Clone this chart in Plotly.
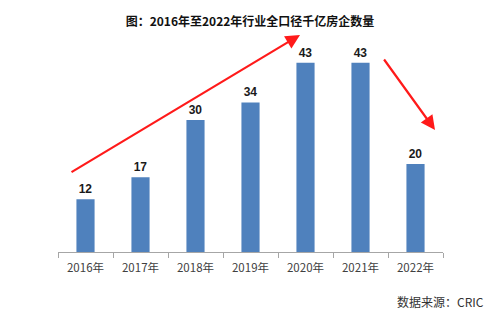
import plotly.graph_objects as go

# Number of developers with full-caliber sales above 100 billion, by year
years = ["2016年", "2017年", "2018年", "2019年", "2020年", "2021年", "2022年"]
counts = [12, 17, 30, 34, 43, 43, 20]

title_text = "图：2016年至2022年行业全口径千亿房企数量"
source_text = "数据来源：CRIC"

W, H = 500, 322
L, R, T, B = 58, 57, 32, 70
plot_w = W - L - R
plot_h = H - T - B


def px_to_paper(px, py):
    return (px - L) / plot_w, (H - B - py) / plot_h


fig = go.Figure(
    go.Bar(
        x=years,
        y=counts,
        marker=dict(color="#4f81bd", line=dict(width=0)),
        text=[str(v) for v in counts],
        textposition="outside",
        textfont=dict(family="Liberation Sans", size=12, color="#1a1a1a", weight="bold"),
        cliponaxis=False,
    )
)

fig.update_layout(
    width=W,
    height=H,
    margin=dict(l=L, r=R, t=T, b=B),
    paper_bgcolor="white",
    plot_bgcolor="white",
    bargap=0.67,
    showlegend=False,
    title=dict(
        text=title_text,
        x=0.5,
        xanchor="center",
        y=1 - 22 / H,
        yanchor="middle",
        font=dict(family="Noto Sans CJK SC", size=12, color="#111111", weight="bold"),
    ),
)

fig.update_xaxes(
    type="category",
    showline=True,
    linecolor="#a6a6a6",
    linewidth=1,
    ticks="outside",
    tickson="boundaries",
    ticklen=5,
    tickcolor="#a6a6a6",
    ticklabelstandoff=5,
    tickfont=dict(family="Noto Sans CJK SC", size=11.5, color="#404040"),
    showgrid=False,
    zeroline=False,
)
fig.update_yaxes(
    range=[0, 50],
    visible=False,
    showgrid=False,
    zeroline=False,
)

# Red trend arrows: rising through 2021, then dropping in 2022
hx, hy = px_to_paper(300, 35)
fig.add_annotation(
    x=hx, y=hy, xref="paper", yref="paper",
    ax=70 - 300, ay=173 - 35, axref="pixel", ayref="pixel",
    showarrow=True, arrowhead=2, arrowsize=1.3, arrowwidth=2.2,
    arrowcolor="#ff1a1a", text="",
)
hx2, hy2 = px_to_paper(435, 130)
fig.add_annotation(
    x=hx2, y=hy2, xref="paper", yref="paper",
    ax=383 - 435, ay=58 - 130, axref="pixel", ayref="pixel",
    showarrow=True, arrowhead=2, arrowsize=1.3, arrowwidth=2.2,
    arrowcolor="#ff1a1a", text="",
)

# Source note, bottom right
sx, sy = px_to_paper(486, 301)
fig.add_annotation(
    x=sx, y=sy, xref="paper", yref="paper",
    xanchor="right", yanchor="middle", showarrow=False,
    text=source_text,
    font=dict(family="Noto Sans CJK SC", size=12, color="#333333"),
)

fig.write_html("out.html")
